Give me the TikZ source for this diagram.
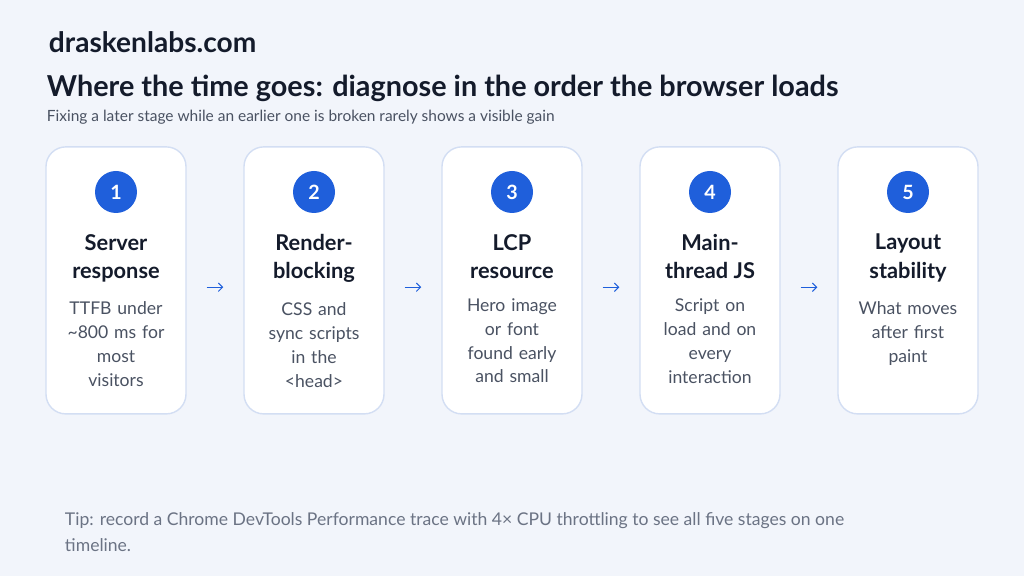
\documentclass[tikz,border=0pt]{standalone}
\usepackage{fontspec}
\setmainfont{Lato}
\usetikzlibrary{positioning, arrows.meta}
\definecolor{PageBg}{HTML}{F2F5FB}
\definecolor{CardEdge}{HTML}{D3DEF3}
\definecolor{StepBlue}{HTML}{1F5FDB}
\definecolor{InkDark}{HTML}{141B2B}
\definecolor{InkGrey}{HTML}{4A5262}
\definecolor{TipGrey}{HTML}{6B7384}
\tikzset{
  card/.style={draw=CardEdge, line width=1pt, fill=white, rounded corners=14pt,
    minimum width=3.5cm, minimum height=6.675cm, inner sep=0pt},
  badge/.style={circle, fill=StepBlue, minimum size=1.05cm, inner sep=0pt,
    text=white, font=\bfseries\fontsize{14}{14}\selectfont},
  head/.style={align=center, text=InkDark, font=\bfseries\fontsize{15.5}{20}\selectfont},
  body/.style={align=center, text=InkGrey, font=\fontsize{12.5}{17}\selectfont, text width=3.3cm},
  step/.style={-, StepBlue, line width=0.6pt}
}
\begin{document}
\begin{tikzpicture}
  \fill[PageBg] (0,0) rectangle (25.6,14.4);
  \useasboundingbox (0,0) rectangle (25.6,14.4);
  % Header
  \node[anchor=west, text=InkDark, font=\bfseries\fontsize{20}{20}\selectfont] (brand) at (1.1,13.35) {draskenlabs.com};
  \node[anchor=west, text=InkDark, font=\bfseries\fontsize{20.5}{20}\selectfont] (title) at (1.05,12.2) {Where the time goes: diagnose in the order the browser loads};
  \node[anchor=west, text=InkGrey, font=\fontsize{11}{11}\selectfont] (sub) at (1.05,11.47) {Fixing a later stage while an earlier one is broken rarely shows a visible gain};
  % Stage cards
  \foreach \i/\hd/\bd in {
      1/{Server\\response}/{TTFB under\\\textasciitilde800 ms for\\most\\visitors},
      2/{Render-\\blocking}/{CSS and\\sync scripts\\in the\\<head>},
      3/{LCP\\resource}/{Hero image\\or font\\found early\\and small},
      4/{Main-\\thread JS}/{Script on\\load and on\\every\\interaction},
      5/{Layout\\stability}/{What moves\\after first\\paint}} {
    \node[card] (s\i) at ({2.9+(\i-1)*4.95},7.39) {};
    \node[badge] (b\i) at ({2.9+(\i-1)*4.95},9.6) {\i};
    \node[head, below=0.4cm of b\i] (h\i) {\hd};
    \node[body, anchor=north] (t\i) at ([yshift=-0.25cm]h\i.south) {\bd};
  }
  % Arrows
  \foreach \a/\b in {1/2, 2/3, 3/4, 4/5}
    \draw[-{Straight Barb[length=3pt]}, StepBlue, line width=0.7pt]
      ([xshift=0.5cm, yshift=-0.17cm]s\a.east) -- ([xshift=-0.5cm, yshift=-0.17cm]s\b.west);
  % Tip
  \node[anchor=north west, text=TipGrey, align=left, font=\fontsize{12.5}{18}\selectfont] (tip) at (1.5,1.7)
    {Tip: record a Chrome DevTools Performance trace with 4× CPU throttling to see all five stages on one\\timeline.};
\end{tikzpicture}
\end{document}
